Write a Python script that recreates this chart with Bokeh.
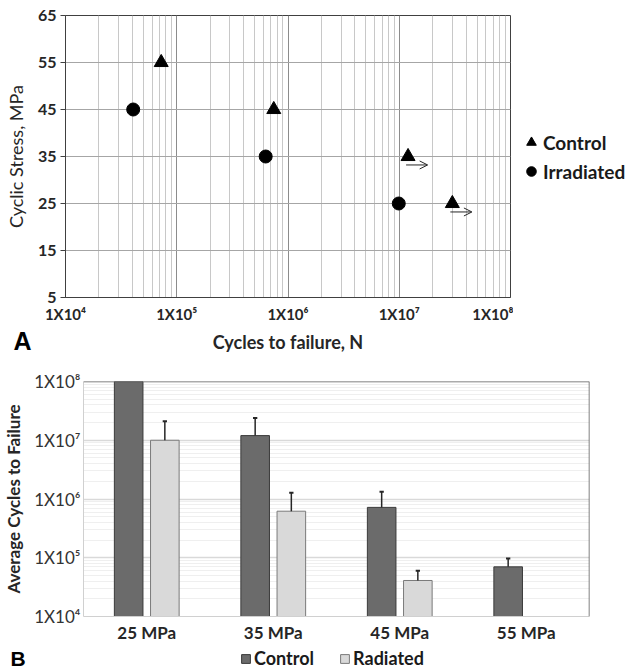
import numpy as np
from bokeh.plotting import figure
from bokeh.models import (FixedTicker, Label, Legend, LegendItem, Arrow, OpenHead,
                          Span, FactorRange, ColumnDataSource, Range1d)
from bokeh.layouts import column, row
from bokeh.transform import dodge
from bokeh.embed import file_html
from bokeh.resources import INLINE

# ---------------- Panel A data ----------------
control_cycles = [7.25e4, 7.45e5, 1.2e7, 3.0e7]
control_stress = [55, 45, 35, 25]
control_runout = [False, False, True, True]
irradiated_cycles = [4.06e4, 6.3e5, 9.9e6]
irradiated_stress = [45, 35, 25]
x_ticks_a = [1e4, 1e5, 1e6, 1e7, 1e8]
x_tick_labels_a = ["1X10⁴", "1X10⁵", "1X10⁶", "1X10⁷", "1X10⁸"]
y_ticks_a = [5, 15, 25, 35, 45, 55, 65]

# ---------------- Panel B data ----------------
stress_levels = ["25 MPa", "35 MPa", "45 MPa", "55 MPa"]
control_mean = [1.0e8, 1.2e7, 7.2e5, 7.0e4]
control_upper = [np.nan, 2.4e7, 1.33e6, 9.7e4]
radiated_mean = [1.0e7, 6.2e5, 4.1e4, np.nan]
radiated_upper = [2.1e7, 1.28e6, 6.0e4, np.nan]
y_ticks_b = [1e4, 1e5, 1e6, 1e7, 1e8]
y_tick_labels_b = ["1X10⁴", "1X10⁵", "1X10⁶", "1X10⁷", "1X10⁸"]

FONT = "Lato"
TXT = "#262626"
CTRL_FILL, CTRL_LINE = "#6b6b6b", "#3a3a3a"
RAD_FILL, RAD_LINE = "#d9d9d9", "#7a7a7a"
minor_log = [m * 10.0 ** e for e in range(4, 8) for m in range(2, 10)]
TOTAL_W = 629


def blank(width, height):
    f = figure(width=width, height=height, x_range=Range1d(0, 1), y_range=Range1d(0, 1),
               x_axis_location=None, y_axis_location=None, min_border=0,
               output_backend="svg", toolbar_location=None)
    f.outline_line_color = None
    f.xgrid.grid_line_color = None
    f.ygrid.grid_line_color = None
    return f


# ================= Panel A =================
A_LEFT, A_FW, A_RIGHT, A_TOP, A_FH, A_BOT = 65, 445, 3, 15, 285, 25
pa = figure(x_axis_type="log", x_range=(1e4, 1e8), y_range=(5, 65),
            width=A_LEFT + A_FW + A_RIGHT, height=A_TOP + A_FH + A_BOT,
            min_border_left=A_LEFT, min_border_right=A_RIGHT,
            min_border_top=A_TOP, min_border_bottom=A_BOT,
            output_backend="svg", toolbar_location=None)
pa.outline_line_color = "#404040"
pa.outline_line_width = 1

xt = FixedTicker(ticks=x_ticks_a, minor_ticks=minor_log)
pa.xaxis.ticker = xt
pa.xgrid.ticker = xt
pa.xaxis.major_label_overrides = {t: l for t, l in zip(x_ticks_a, x_tick_labels_a)}
pa.xaxis.major_tick_out = 0
pa.xaxis.major_tick_in = 0
pa.xaxis.minor_tick_out = 0
pa.xaxis.minor_tick_in = 0
pa.xaxis.axis_line_color = "#404040"
pa.xaxis.major_label_text_font = FONT
pa.xaxis.major_label_text_font_style = "bold"
pa.xaxis.major_label_text_font_size = "15px"
pa.xaxis.major_label_text_color = TXT
pa.xaxis.major_label_standoff = 7
pa.xgrid.grid_line_color = "#8c8c8c"
pa.xgrid.minor_grid_line_color = "#c8c8c8"

yt = FixedTicker(ticks=y_ticks_a, minor_ticks=[])
pa.yaxis.ticker = yt
pa.ygrid.ticker = yt
pa.yaxis.major_tick_out = 5
pa.yaxis.major_tick_in = 0
pa.yaxis.minor_tick_out = 0
pa.yaxis.minor_tick_in = 0
pa.yaxis.axis_line_color = "#404040"
pa.yaxis.major_tick_line_color = "#404040"
pa.yaxis.major_label_text_font = FONT
pa.yaxis.major_label_text_font_style = "bold"
pa.yaxis.major_label_text_font_size = "16px"
pa.yaxis.major_label_text_color = TXT
pa.yaxis.major_label_standoff = 4
pa.yaxis.axis_label = "Cyclic Stress, MPa"
pa.yaxis.axis_label_text_font = FONT
pa.yaxis.axis_label_text_font_style = "normal"
pa.yaxis.axis_label_text_font_size = "18px"
pa.yaxis.axis_label_text_color = TXT
pa.yaxis.axis_label_standoff = 8
pa.ygrid.grid_line_color = "#a6a6a6"

pa.scatter(control_cycles, control_stress, marker="triangle", size=14,
           fill_color="black", line_color="black")
pa.scatter(irradiated_cycles, irradiated_stress, marker="circle", size=13,
           fill_color="black", line_color="black")

for n, s, ro in zip(control_cycles, control_stress, control_runout):
    if ro:
        pa.add_layout(Arrow(end=OpenHead(size=8, line_width=1, line_color=TXT),
                            x_start=n * 0.96, y_start=s - 1.8, x_end=n * 1.5, y_end=s - 1.8,
                            line_width=1, line_color=TXT))

# legend strip to the right of panel A (swatch renderers sit outside the visible range)
pa_w = A_LEFT + A_FW + A_RIGHT
pa_h = A_TOP + A_FH + A_BOT
leg_fig_a = blank(TOTAL_W - pa_w, pa_h)
d_tri = leg_fig_a.scatter(x=[-5], y=[-5], marker="triangle", fill_color="black", line_color="black")
d_circ = leg_fig_a.scatter(x=[-5], y=[-5], marker="circle", fill_color="black", line_color="black")
leg_a = Legend(items=[LegendItem(label="Control", renderers=[d_tri]),
                      LegendItem(label="Irradiated", renderers=[d_circ])],
               location=(6, 142), orientation="vertical")
leg_a.border_line_color = None
leg_a.background_fill_alpha = 0
leg_a.label_text_font = FONT
leg_a.label_text_font_style = "bold"
leg_a.label_text_font_size = "19px"
leg_a.label_text_color = "#1a1a1a"
leg_a.glyph_width = 24
leg_a.glyph_height = 24
leg_a.label_standoff = -11
leg_a.spacing = 5
leg_a.padding = 0
leg_a.margin = 0
leg_fig_a.add_layout(leg_a, "center")

# strip with panel letter and x-axis title of panel A
STRIP_A_H = 30
strip_a = blank(TOTAL_W, STRIP_A_H)
strip_a.add_layout(Label(x=13, y=15, x_units="screen", y_units="screen", text="A",
                         text_font="Liberation Sans", text_font_style="bold",
                         text_font_size="25px", text_color="#000000",
                         text_baseline="middle"))
strip_a.add_layout(Label(x=A_LEFT + A_FW / 2, y=14, x_units="screen", y_units="screen",
                         text="Cycles to failure, N", text_font=FONT, text_font_style="bold",
                         text_font_size="18px", text_color=TXT,
                         text_align="center", text_baseline="middle"))

# ================= Panel B =================
src = ColumnDataSource(dict(cat=stress_levels,
                            control=np.array(control_mean, dtype=float),
                            control_up=np.array(control_upper, dtype=float),
                            radiated=np.array(radiated_mean, dtype=float),
                            radiated_up=np.array(radiated_upper, dtype=float)))

B_LEFT, B_FW, B_TOP, B_FH, B_BOT = 78, 511, 26, 238, 26
B_RIGHT = TOTAL_W - B_LEFT - B_FW
pb = figure(x_range=FactorRange(factors=stress_levels), y_axis_type="log", y_range=(1e4, 1e8),
            width=TOTAL_W, height=B_TOP + B_FH + B_BOT,
            min_border_left=B_LEFT, min_border_right=B_RIGHT,
            min_border_top=B_TOP, min_border_bottom=B_BOT,
            output_backend="svg", toolbar_location=None)
pb.outline_line_color = None

OFF = 0.143
W = 0.226
CAP = 0.017
base = y_ticks_b[0]

pb.vbar(x=dodge("cat", -OFF, range=pb.x_range), top="control", bottom=base, width=W,
        source=src, fill_color=CTRL_FILL, line_color=CTRL_LINE, line_width=1)
pb.vbar(x=dodge("cat", OFF, range=pb.x_range), top="radiated", bottom=base, width=W,
        source=src, fill_color=RAD_FILL, line_color=RAD_LINE, line_width=1)

for off, lo, hi in [(-OFF, "control", "control_up"), (OFF, "radiated", "radiated_up")]:
    pb.segment(x0=dodge("cat", off, range=pb.x_range), x1=dodge("cat", off, range=pb.x_range),
               y0=lo, y1=hi, source=src, line_color=TXT, line_width=1.5)
    pb.segment(x0=dodge("cat", off - CAP, range=pb.x_range), x1=dodge("cat", off + CAP, range=pb.x_range),
               y0=hi, y1=hi, source=src, line_color=TXT, line_width=2)

ytb = FixedTicker(ticks=y_ticks_b, minor_ticks=minor_log)
pb.yaxis.ticker = ytb
pb.ygrid.ticker = ytb
pb.yaxis.major_label_overrides = {t: l for t, l in zip(y_ticks_b, y_tick_labels_b)}
pb.yaxis.major_tick_out = 0
pb.yaxis.major_tick_in = 0
pb.yaxis.minor_tick_out = 0
pb.yaxis.minor_tick_in = 0
pb.yaxis.axis_line_color = "#d0d0d0"
pb.yaxis.major_label_text_font = FONT
pb.yaxis.major_label_text_font_size = "17px"
pb.yaxis.major_label_text_color = "#333333"
pb.yaxis.major_label_standoff = 3
pb.yaxis.axis_label = "Average Cycles to Failure"
pb.yaxis.axis_label_text_font = FONT
pb.yaxis.axis_label_text_font_style = "bold"
pb.yaxis.axis_label_text_font_size = "17px"
pb.yaxis.axis_label_text_color = TXT
pb.yaxis.axis_label_standoff = 7
pb.ygrid.grid_line_color = "#d9d9d9"
pb.ygrid.grid_line_width = 1.5
pb.ygrid.minor_grid_line_color = "#efefef"
pb.xgrid.grid_line_color = None

pb.xaxis.major_tick_out = 0
pb.xaxis.major_tick_in = 0
pb.xaxis.axis_line_color = "#d0d0d0"
pb.xaxis.major_label_text_font = FONT
pb.xaxis.major_label_text_font_style = "bold"
pb.xaxis.major_label_text_font_size = "17px"
pb.xaxis.major_label_text_color = TXT
pb.xaxis.major_label_standoff = 5

pb.add_layout(Span(location=y_ticks_b[-1], dimension="width", line_color="#595959", line_width=1.5))
pb.add_layout(Span(location=len(stress_levels), dimension="height", line_color="#595959", line_width=1.5))

# strip with panel letter and legend of panel B (swatch renderers sit outside the visible range)
STRIP_B_H = 25
strip_b = blank(TOTAL_W, STRIP_B_H)
d_ctrl = strip_b.vbar(x=[-5], top=[-5], bottom=-6, width=0.1, fill_color=CTRL_FILL, line_color=CTRL_LINE)
d_rad = strip_b.vbar(x=[-5], top=[-5], bottom=-6, width=0.1, fill_color=RAD_FILL, line_color=RAD_LINE)
leg_b = Legend(items=[LegendItem(label="Control", renderers=[d_ctrl]),
                      LegendItem(label="Radiated", renderers=[d_rad])],
               location=(240, 1), orientation="horizontal")
leg_b.border_line_color = None
leg_b.background_fill_alpha = 0
leg_b.label_text_font = FONT
leg_b.label_text_font_style = "bold"
leg_b.label_text_font_size = "18px"
leg_b.label_text_color = "#1a1a1a"
leg_b.glyph_width = 11
leg_b.glyph_height = 11
leg_b.label_standoff = 3
leg_b.spacing = 25
leg_b.padding = 0
leg_b.margin = 0
strip_b.add_layout(leg_b, "center")
strip_b.add_layout(Label(x=10, y=12, x_units="screen", y_units="screen", text="B",
                         text_font="Liberation Sans", text_font_style="bold",
                         text_font_size="21px", text_color="#000000",
                         text_baseline="middle"))

layout = column(row(pa, column(leg_fig_a)), row(strip_a), row(pb), row(strip_b))
open("out.html", "w").write(file_html(layout, INLINE))
